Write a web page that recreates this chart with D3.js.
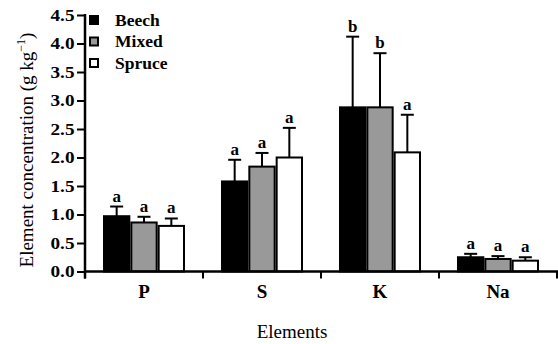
<!DOCTYPE html>
<html><head><meta charset="utf-8">
<script src="https://cdn.jsdelivr.net/npm/d3@7"></script>
<style>body{margin:0;background:#fff}svg{display:block}text{font-family:"Liberation Serif","Times New Roman",serif;fill:#000}
.b{font-weight:bold}</style>
</head><body><svg id="c" width="558" height="344"></svg>
<script>
const categories = ["P","S","K","Na"];
const seriesNames = ["Beech","Mixed","Spruce"];
const seriesColors = ["#000000","#999999","#ffffff"];
const beechMean = [0.97, 1.58, 2.88, 0.25];
const beechErr  = [1.14, 1.96, 4.12, 0.31];
const mixedMean = [0.86, 1.84, 2.88, 0.22];
const mixedErr  = [0.96, 2.08, 3.83, 0.27];
const spruceMean= [0.80, 2.00, 2.09, 0.19];
const spruceErr = [0.93, 2.52, 2.75, 0.25];
const beechLetters  = ["a","a","b","a"];
const mixedLetters  = ["a","a","b","a"];
const spruceLetters = ["a","a","a","a"];
const yTicks = [0,0.5,1.0,1.5,2.0,2.5,3.0,3.5,4.0,4.5];

const means = [beechMean, mixedMean, spruceMean];
const errs = [beechErr, mixedErr, spruceErr];
const letters = [beechLetters, mixedLetters, spruceLetters];

const svg = d3.select("#c");
const mLeft = 85, mRight = 557, mTop = 15, mBottom = 271.5;
const y = d3.scaleLinear().domain([0,4.5]).range([mBottom, mTop]);
const x0 = d3.scaleBand().domain(categories).range([mLeft, mRight]).padding(0);
const bw = x0.bandwidth(), gw = 82;
const x1 = d3.scaleBand().domain(seriesNames).range([(bw-gw)/2, (bw+gw)/2]).padding(0);

const rows = [];
categories.forEach((c,ci)=>seriesNames.forEach((s,si)=>rows.push({c,s,si,m:means[si][ci],e:errs[si][ci],l:letters[si][ci]})));
const cx = d=>x0(d.c)+x1(d.s)+x1.bandwidth()/2;

const g = svg.append("g");
g.selectAll("line.err").data(rows).join("line").attr("class","err")
  .attr("x1",cx).attr("x2",cx)
  .attr("y1",d=>y(d.m)).attr("y2",d=>y(d.e)).attr("stroke","#000").attr("stroke-width",2);
g.selectAll("line.cap").data(rows).join("line").attr("class","cap")
  .attr("x1",d=>cx(d)-6.5).attr("x2",d=>cx(d)+6.5)
  .attr("y1",d=>y(d.e)).attr("y2",d=>y(d.e)).attr("stroke","#000").attr("stroke-width",2);
g.selectAll("rect.bar").data(rows).join("rect").attr("class","bar")
  .attr("x",d=>x0(d.c)+x1(d.s)+1).attr("width",x1.bandwidth()-2)
  .attr("y",d=>y(d.m)).attr("height",d=>mBottom-y(d.m))
  .attr("fill",d=>seriesColors[d.si]).attr("stroke","#000").attr("stroke-width",2);
g.selectAll("text.lab").data(rows).join("text").attr("class","lab b")
  .attr("x",cx).attr("y",d=>y(d.e)-5)
  .attr("text-anchor","middle").attr("font-size",17).text(d=>d.l);

const ya = svg.append("g").attr("transform",`translate(${mLeft},0)`)
  .call(d3.axisLeft(y).tickValues(yTicks).tickFormat(d3.format(".1f")).tickSize(8).tickPadding(2));
ya.attr("font-family",null);
ya.select(".domain").remove();
ya.selectAll(".tick line").attr("stroke-width",2);
const sx = 1.2;
ya.selectAll(".tick text").attr("class","b").attr("font-size",16).attr("fill","#000")
  .attr("x",-10.5/sx).attr("transform",`scale(${sx},1)`);
svg.append("line").attr("x1",mLeft).attr("x2",mLeft).attr("y1",mTop-1).attr("y2",mBottom+7).attr("stroke","#000").attr("stroke-width",2.5);

svg.append("line").attr("x1",mLeft).attr("x2",558).attr("y1",mBottom).attr("y2",mBottom).attr("stroke","#000").attr("stroke-width",2.5);
const bounds = categories.map(c=>x0(c)).concat([x0(categories[categories.length-1])+bw]);
svg.selectAll("line.xt").data(bounds).join("line").attr("class","xt")
  .attr("x1",d=>d).attr("x2",d=>d).attr("y1",mBottom).attr("y2",mBottom+7).attr("stroke","#000").attr("stroke-width",2);
svg.selectAll("text.cat").data(categories).join("text").attr("class","cat b")
  .attr("x",d=>x0(d)+bw/2).attr("y",297.5).attr("text-anchor","middle")
  .attr("font-size",19).text(d=>d);

svg.append("text").attr("x",292).attr("y",338).attr("text-anchor","middle").attr("font-size",19).text("Elements");
const yt = svg.append("text").attr("transform","translate(33,150) rotate(-90)").attr("text-anchor","middle").attr("font-size",19);
yt.append("tspan").text("Element concentration (g kg");
yt.append("tspan").attr("dy",-8).attr("font-size",12).text("−1");
yt.append("tspan").attr("dy",8).text(")");

const lg = svg.append("g");
seriesNames.forEach((s,i)=>{
  const yy = 20 + i*21.5;
  lg.append("rect").attr("x",90).attr("y",yy-4).attr("width",8).attr("height",8)
    .attr("fill",seriesColors[i]).attr("stroke","#000").attr("stroke-width",2);
  lg.append("text").attr("class","b").attr("x",115).attr("y",yy+5.5).attr("font-size",17.5).text(s);
});
</script></body></html>
